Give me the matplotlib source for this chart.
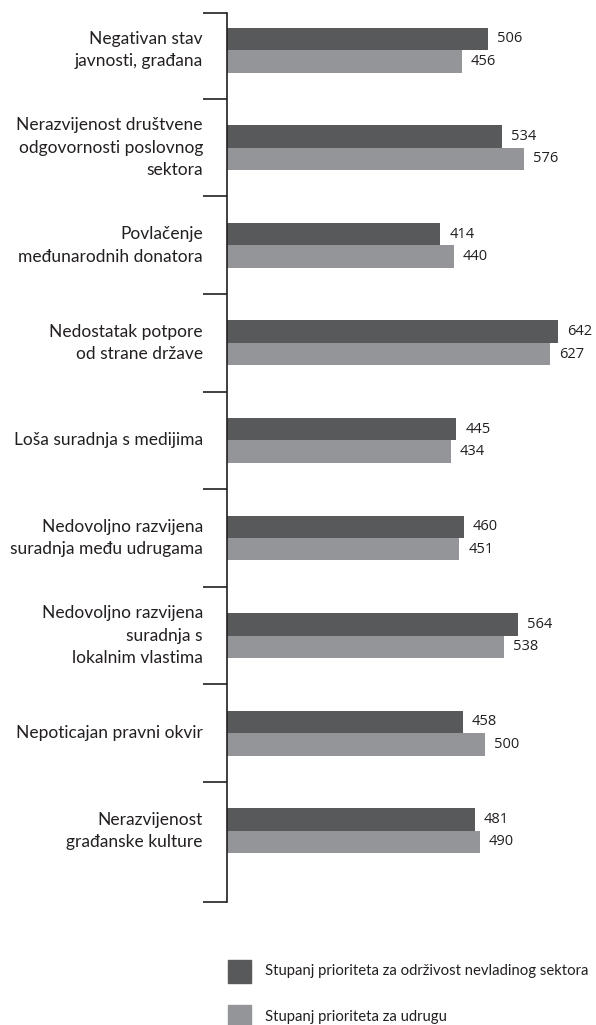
import numpy as np
import matplotlib
matplotlib.use('Agg')
import matplotlib.pyplot as plt
from matplotlib.patches import Rectangle

categories = [
    'Negativan stav\njavnosti, građana',
    'Nerazvijenost društvene\nodgovornosti poslovnog\nsektora',
    'Povlačenje\nmeđunarodnih donatora',
    'Nedostatak potpore\nod strane države',
    'Loša suradnja s medijima',
    'Nedovoljno razvijena\nsuradnja među udrugama',
    'Nedovoljno razvijena\nsuradnja s\nlokalnim vlastima',
    'Nepoticajan pravni okvir',
    'Nerazvijenost\ngrađanske kulture',
]
sektor_vals = [506, 534, 414, 642, 445, 460, 564, 458, 481]
udruga_vals = [456, 576, 440, 627, 434, 451, 538, 500, 490]
series_names = ['Stupanj prioriteta za održivost nevladinog sektora',
                'Stupanj prioriteta za udrugu']

dark = '#58595b'
light = '#939598'
text_col = '#231f20'
plt.rcParams['font.family'] = ['Lato', 'DejaVu Sans']

W, H = 596, 1025
fig = plt.figure(figsize=(W / 100, H / 100), dpi=100)
ax = fig.add_axes([227 / W, 1 - 902 / H, 369 / W, 889 / H])

y = np.arange(len(categories))
bh = 0.23
ax.barh(y - bh / 2, sektor_vals, height=bh, color=dark)
ax.barh(y + bh / 2, udruga_vals, height=bh, color=light)

# value labels
for yi, v in zip(y - bh / 2, sektor_vals):
    ax.annotate(str(v), (v, yi), xytext=(9, 0), textcoords='offset pixels',
                va='center', ha='left', fontsize=10.5, color=text_col,
                family=['Open Sans', 'DejaVu Sans'])
for yi, v in zip(y + bh / 2, udruga_vals):
    ax.annotate(str(v), (v, yi), xytext=(9, 0), textcoords='offset pixels',
                va='center', ha='left', fontsize=10.5, color=text_col,
                family=['Open Sans', 'DejaVu Sans'])

for yi, lab in zip(y, categories):
    ax.annotate(lab, (0, yi), xytext=(-24, 0), textcoords='offset pixels',
                xycoords=('axes fraction', 'data'),
                va='center', ha='right', fontsize=12.5, color=text_col,
                linespacing=1.5)

ax.set_xlim(0, 716)
ax.set_ylim(8.73, -0.38)
for s in ['top', 'right', 'bottom']:
    ax.spines[s].set_visible(False)
ax.spines['left'].set_linewidth(1.2)
ax.spines['left'].set_color(text_col)
ax.set_xticks([])
bounds = [-0.38] + list(np.arange(len(categories) - 1) + 0.5) + [8.73]
ax.set_yticks(bounds)
ax.set_yticklabels([])
ax.tick_params(axis='y', direction='out', length=17.5, width=1.2, color=text_col)

# legend
for i, (name, col) in enumerate(zip(series_names, [dark, light])):
    top = 960 + i * 45
    fig.add_artist(Rectangle((228 / W, 1 - (top + 23) / H), 23 / W, 23 / H,
                             transform=fig.transFigure, color=col))
    fig.text(265 / W, 1 - (top + 11.5) / H, name, va='center', ha='left',
             fontsize=10.7, color=text_col)

fig.savefig('out.png', dpi=100)
